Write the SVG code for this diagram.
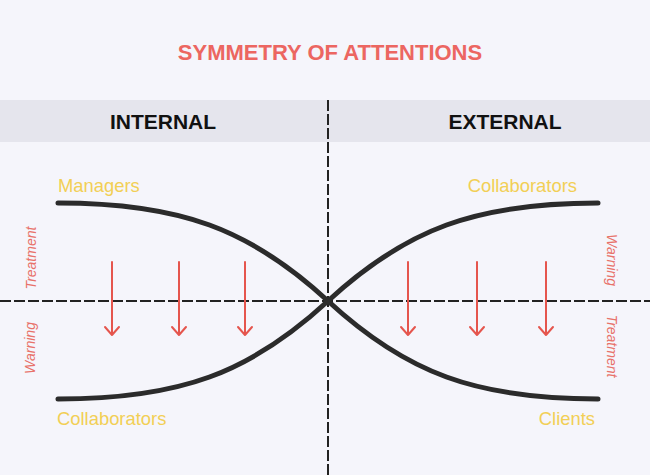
<svg xmlns="http://www.w3.org/2000/svg" width="650" height="475" viewBox="0 0 650 475">
<defs>
<style>
.title{font-family:"Liberation Sans",Arial,sans-serif;font-weight:bold;font-size:22px;fill:#ec6661}
.head{font-family:"Liberation Sans",Arial,sans-serif;font-weight:bold;font-size:21px;fill:#111}
.lbl{font-family:"Liberation Sans",Arial,sans-serif;font-size:18.4px;fill:#f2cf55}
.side{font-family:"Liberation Sans",Arial,sans-serif;font-style:italic;font-size:14px;fill:#e8726a}
.axis{stroke:#222;stroke-width:2;stroke-dasharray:11 3;fill:none}
.curve{stroke:#2b2b2b;stroke-width:5;fill:none;stroke-linecap:round}
.arr{stroke:#e5554d;stroke-width:2;fill:none;stroke-linecap:round;stroke-linejoin:round}
</style>
</defs>
<rect width="650" height="475" fill="#f5f5fb"/>
<text class="title" x="330" y="60" text-anchor="middle">SYMMETRY OF ATTENTIONS</text>
<g id="band">
<rect x="0" y="100" width="650" height="42" fill="#e5e5ed"/>
</g>
<g id="internal"><text class="head" x="163" y="129" text-anchor="middle">INTERNAL</text></g>
<g id="external"><text class="head" x="505" y="129" text-anchor="middle">EXTERNAL</text></g>
<g id="connectors">
<line class="axis" x1="328" y1="100" x2="328" y2="475"/>
<line class="axis" x1="0" y1="301" x2="650" y2="301"/>
<path class="curve" d="M58,203 C180,203 250,229 328,301 S476,399 598,399"/>
<path class="curve" d="M58,399 C180,399 250,373 328,301 S476,203 598,203"/>
<g id="arrows">
<path class="arr" d="M112,262 V335 M105,327 L112,335 L119,327"/>
<path class="arr" d="M179,262 V335 M172,327 L179,335 L186,327"/>
<path class="arr" d="M245,262 V335 M238,327 L245,335 L252,327"/>
<path class="arr" d="M408,262 V335 M401,327 L408,335 L415,327"/>
<path class="arr" d="M477,262 V335 M470,327 L477,335 L484,327"/>
<path class="arr" d="M546,262 V335 M539,327 L546,335 L553,327"/>
</g>
</g>
<g id="managers"><text class="lbl" x="58" y="192">Managers</text></g>
<g id="collab-top"><text class="lbl" x="577" y="192" text-anchor="end">Collaborators</text></g>
<g id="collab-bottom"><text class="lbl" x="57" y="425">Collaborators</text></g>
<g id="clients"><text class="lbl" x="595" y="425" text-anchor="end">Clients</text></g>
<g id="treatment-left"><text class="side" text-anchor="middle" transform="translate(36,258) rotate(-90)">Treatment</text></g>
<g id="warning-left"><text class="side" text-anchor="middle" transform="translate(35,348) rotate(-90)">Warning</text></g>
<g id="warning-right"><text class="side" text-anchor="middle" transform="translate(607,260) rotate(90)">Warning</text></g>
<g id="treatment-right"><text class="side" text-anchor="middle" transform="translate(607,346) rotate(90)">Treatment</text></g>
</svg>
